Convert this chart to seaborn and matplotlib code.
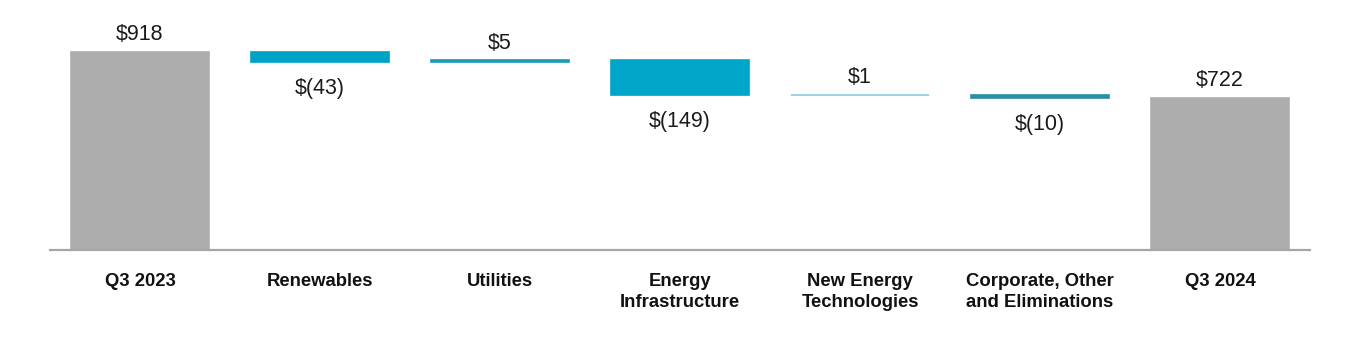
#!/usr/bin/env python3

import numpy as np
import matplotlib
matplotlib.use('Agg')
import matplotlib.pyplot as plt
import pandas as pd
import seaborn as sns

SET_DPI = 100
FIGSIZE = (13.6, 3.5)

categories = ['Q3 2023', 'Renewables', 'Utilities', 'Energy\nInfrastructure',
              'New Energy\nTechnologies', 'Corporate, Other\nand Eliminations', 'Q3 2024']
changes = [918, -43, 5, -149, 1, -10, 722]
is_total = [True, False, False, False, False, False, True]
labels = ['$918', '$(43)', '$5', '$(149)', '$1', '$(10)', '$722']
colours = ['#adadad', '#00a3c7', '#1a9ab5', '#00a6c9', '#8ccfdc', '#2a8fa6', '#adadad']

# floating bar spans
bottoms = []
heights = []
running = 0
for val, tot in zip(changes, is_total):
    if tot:
        bottoms.append(0)
        heights.append(val)
        running = val
    else:
        bottoms.append(min(running, running + val))
        heights.append(abs(val))
        running += val

data = pd.DataFrame({'category': categories, 'height': heights, 'bottom': bottoms})

sns.set_style('white')
plt.rcParams['font.family'] = ['Liberation Sans', 'DejaVu Sans']

fig = plt.figure(figsize=FIGSIZE, dpi=SET_DPI)
ax = fig.add_axes([50 / 1360, 100 / 350, 1260 / 1360, 250 / 350])

sns.barplot(data=data, x='category', y='height', order=categories, color='#adadad',
            saturation=1, width=0.763, bottom=np.array(bottoms), linewidth=1.2, ax=ax)
for patch, c in zip(ax.patches, colours):
    patch.set_facecolor(c)
    patch.set_edgecolor(c)

for i, (val, lab) in enumerate(zip(changes, labels)):
    if val >= 0:
        y = bottoms[i] + heights[i]
        ax.annotate(lab, (i, y), xytext=(0, 5), textcoords='offset points',
                    ha='center', va='bottom', fontsize=15.5, color='#1a1a1a')
    else:
        y = bottoms[i]
        ax.annotate(lab, (i, y), xytext=(0, -11.5), textcoords='offset points',
                    ha='center', va='top', fontsize=15.5, color='#1a1a1a')

ax.set_xlim(-0.5, 6.5)
ax.set_ylim(72.4, 1137.6)
ax.set_xlabel('')
ax.set_ylabel('')
ax.set_yticks([])
ax.tick_params(axis='x', length=0, pad=16.5)
for t in ax.get_xticklabels():
    t.set_fontweight('bold')
    t.set_fontsize(13.3)
    t.set_color('#111111')
    t.set_linespacing(1.35)
for s in ['top', 'left', 'right']:
    ax.spines[s].set_visible(False)
ax.spines['bottom'].set_color('#a6a6a6')
ax.spines['bottom'].set_linewidth(1.6)

plt.savefig('out.png', dpi=SET_DPI)
plt.close()
